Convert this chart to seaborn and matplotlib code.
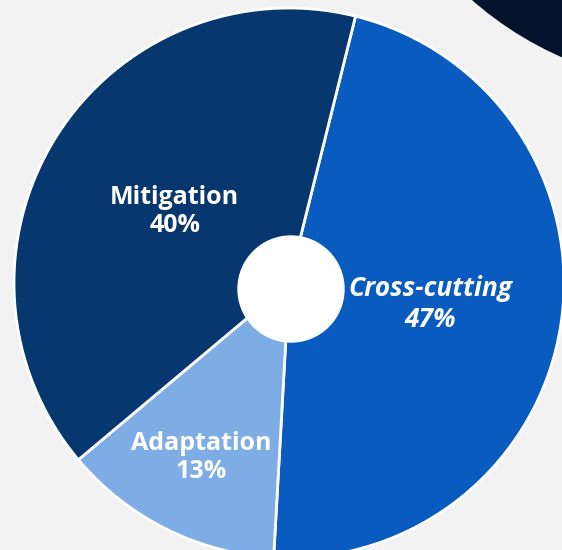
import numpy as np
import matplotlib.pyplot as plt
import seaborn as sns

sns.set_theme(style='white')
plt.rcParams['font.family'] = ['Open Sans', 'DejaVu Sans']

# Share of finance by theme (clockwise from the top)
categories = ['Cross-cutting', 'Adaptation', 'Mitigation']
shares = [47, 13, 40]
slice_colors = ['#0a5bbf', '#7eade6', '#07376f']
label_dist = [0.52, 0.71, 0.49]
label_style = ['italic', 'normal', 'normal']
label_size = [19, 18, 18]

bg = '#f2f2f2'
fig = plt.figure(figsize=(5.62, 5.5), dpi=100, facecolor=bg)
ax = fig.add_axes([0, 0, 1, 1])

# axes in pixel units, y up
wedges, _ = ax.pie(shares, colors=sns.color_palette(slice_colors),
                   startangle=76, counterclock=False,
                   center=(289, 267), radius=275,
                   wedgeprops={'edgecolor': 'white', 'linewidth': 2})

# labels placed along each wedge's middle angle
for wedge, name, value, dist, style, size in zip(wedges, categories, shares,
                                                 label_dist, label_style, label_size):
    mid = np.deg2rad((wedge.theta1 + wedge.theta2) / 2)
    x = wedge.center[0] + dist * wedge.r * np.cos(mid)
    y = wedge.center[1] + dist * wedge.r * np.sin(mid)
    ax.text(x, y, f'{name}\n{value}%', ha='center', va='center',
            color='white', fontsize=size, fontweight='bold',
            fontstyle=style, linespacing=1.2, zorder=5)

# hole in the middle
ax.add_patch(plt.Circle((291, 261), 53, color='white', zorder=4))
# dark decoration in the top right corner
ax.add_patch(plt.Circle((702, 812), 348, color='#03132b', zorder=0))

ax.set_xlim(0, 562)
ax.set_ylim(0, 550)
ax.set_aspect('equal')
ax.axis('off')

plt.savefig('out.png', dpi=100, facecolor=bg)
